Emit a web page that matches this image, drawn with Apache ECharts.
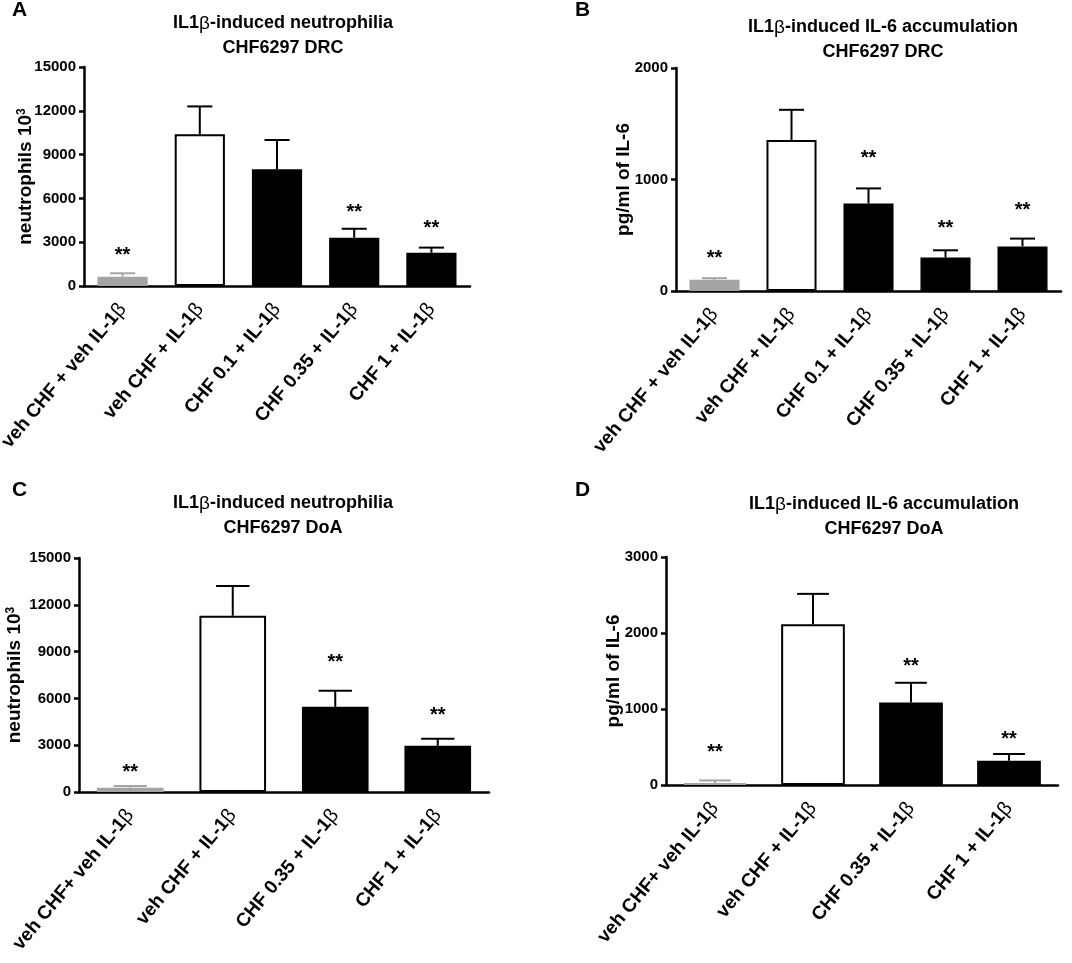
<!DOCTYPE html>
<html>
<head>
    <meta charset="utf-8">
    <style>
        body{ margin: 0; background: #fff; }
        #chart-container{ width: 1072px; height: 963px; }
    </style>
</head>
<body>
    <div id="chart-container"></div>

    <script type="text/javascript" src="https://cdn.jsdelivr.net/npm/echarts@6/dist/echarts.min.js"></script>
    <script type="text/javascript">
        // categories
        var catsDRC = ['veh CHF + veh IL-1β', 'veh CHF + IL-1β', 'CHF 0.1 + IL-1β', 'CHF 0.35 + IL-1β', 'CHF 1 + IL-1β'];
        var catsDoA = ['veh CHF+ veh IL-1β', 'veh CHF + IL-1β', 'CHF 0.35 + IL-1β', 'CHF 1 + IL-1β'];

        // A: neutrophils, DRC (mean, SEM, where the ** sits)
        var meanA = [640, 10400, 8000, 3300, 2280];
        var semA  = [230, 1900, 2000, 620, 350];
        var starA = [2450, null, null, 5350, 4300];

        // B: IL-6, DRC
        var meanB = [100, 1355, 785, 300, 400];
        var semB  = [15, 270, 135, 65, 70];
        var starB = [340, null, 1230, 610, 770];

        // C: neutrophils, DoA
        var meanC = [270, 11300, 5460, 2960];
        var semC  = [110, 1900, 1030, 450];
        var starC = [1600, null, 8600, 5250];

        // D: IL-6, DoA
        var meanD = [25, 2115, 1085, 320];
        var semD  = [35, 400, 260, 88];
        var starD = [500, null, 1620, 660];

        // y-axis ranges
        var yMaxNeut = 15000, yStepNeut = 3000;
        var yMaxIL6B = 2000, yStepIL6B = 1000;
        var yMaxIL6D = 3000, yStepIL6D = 1000;

        var GRAY = '#a4a4a6', WHITE = '#ffffff', BLACK = '#000000';
        var fillsDRC = [GRAY, WHITE, BLACK, BLACK, BLACK];
        var fillsDoA = [GRAY, WHITE, BLACK, BLACK];
        var FONT = '"Liberation Sans", Arial, Helvetica, sans-serif';

        var panels = [
            { grid: {left: 84, top: 67, width: 386, height: 219}, cats: catsDRC, mean: meanA, sem: semA, star: starA,
              max: yMaxNeut, step: yStepNeut, name: 'neutrophils 10{sup|3}', nameGap: 49, fills: fillsDRC },
            { grid: {left: 676, top: 68, width: 385, height: 223}, cats: catsDRC, mean: meanB, sem: semB, star: starB,
              max: yMaxIL6B, step: yStepIL6B, name: 'pg/ml of IL-6', nameGap: 43, fills: fillsDRC },
            { grid: {left: 79, top: 558, width: 410, height: 234}, cats: catsDoA, mean: meanC, sem: semC, star: starC,
              max: yMaxNeut, step: yStepNeut, name: 'neutrophils 10{sup|3}', nameGap: 55, fills: fillsDoA },
            { grid: {left: 666, top: 557, width: 392, height: 228}, cats: catsDoA, mean: meanD, sem: semD, star: starD,
              max: yMaxIL6D, step: yStepIL6D, name: 'pg/ml of IL-6', nameGap: 43, fills: fillsDoA }
        ];

        var grids = [], xAxes = [], yAxes = [], series = [];

        panels.forEach(function (p, k) {
            var g = p.grid;
            grids.push({ left: g.left, top: g.top, width: g.width, height: g.height, containLabel: false, outerBoundsMode: 'none' });

            xAxes.push({
                type: 'category', gridIndex: k, data: p.cats,
                axisLine: { lineStyle: { color: '#000', width: 2.5 } },
                axisTick: { alignWithLabel: true, length: 7, lineStyle: { color: '#000', width: 2.5 } },
                axisLabel: {
                    interval: 0, rotate: 50, margin: 20, color: '#000',
                    fontFamily: FONT, fontWeight: 'bold', fontSize: 19,
                    formatter: function (v) { return v.replace('β', '{b|β}'); },
                    rich: { b: { fontFamily: FONT, fontWeight: 'normal', fontSize: 20, color: '#000' } }
                }
            });

            yAxes.push({
                type: 'value', gridIndex: k, min: 0, max: p.max, interval: p.step,
                name: p.name, nameLocation: 'middle', nameGap: p.nameGap, nameMoveOverlap: false,
                nameTextStyle: {
                    color: '#000', fontFamily: FONT, fontWeight: 'bold', fontSize: 19,
                    rich: { sup: { fontFamily: FONT, fontWeight: 'bold', fontSize: 12, verticalAlign: 'top', color: '#000' } }
                },
                splitLine: { show: false },
                axisLine: { show: true, lineStyle: { color: '#000', width: 2.5 } },
                axisTick: { show: true, length: 5, lineStyle: { color: '#000', width: 2.5 } },
                axisLabel: {
                    color: '#000', fontFamily: FONT, fontWeight: 'bold', fontSize: 15, margin: 8,
                    formatter: function (v) { return String(v); }
                }
            });

            series.push({
                type: 'bar', xAxisIndex: k, yAxisIndex: k, barWidth: '65%',
                data: p.mean.map(function (v, i) {
                    var f = p.fills[i];
                    return { value: v, itemStyle: { color: f, borderColor: f === WHITE ? BLACK : f, borderWidth: 2 } };
                })
            });

            // error bars: mean -> mean + SEM, with a cap half the bar wide
            series.push({
                type: 'custom', xAxisIndex: k, yAxisIndex: k, z: 3,
                data: p.mean.map(function (v, i) { return [i, v, v + p.sem[i]]; }),
                renderItem: function (params, api) {
                    var i = api.value(0);
                    var lo = api.coord([i, api.value(1)]);
                    var hi = api.coord([i, api.value(2)]);
                    var half = api.size([1, 0])[0] * 0.65 * 0.25;
                    var col = p.fills[i] === GRAY ? GRAY : BLACK;
                    return {
                        type: 'group',
                        children: [
                            { type: 'line', shape: { x1: lo[0], y1: lo[1], x2: hi[0], y2: hi[1] }, style: { stroke: col, lineWidth: 2 } },
                            { type: 'line', shape: { x1: hi[0] - half, y1: hi[1], x2: hi[0] + half, y2: hi[1] }, style: { stroke: col, lineWidth: 2 } }
                        ]
                    };
                }
            });

            // significance marks
            var starData = [];
            p.star.forEach(function (s, i) { if (s != null) starData.push([i, s]); });
            series.push({
                type: 'custom', xAxisIndex: k, yAxisIndex: k, z: 4,
                data: starData,
                renderItem: function (params, api) {
                    var pt = api.coord([api.value(0), api.value(1)]);
                    return {
                        type: 'text', x: pt[0], y: pt[1] + 5,
                        style: { text: '**', fill: '#000', font: 'bold 20px ' + FONT, align: 'center', verticalAlign: 'middle' }
                    };
                }
            });
        });

        function titleText(x, y, l1, l2) {
            return {
                type: 'text', x: x, y: y,
                style: {
                    text: l1.replace('β', '{b|β}') + '\n' + l2,
                    fill: '#000', font: 'bold 18px ' + FONT, align: 'center', verticalAlign: 'top', lineHeight: 25,
                    rich: { b: { fontFamily: FONT, fontWeight: 'normal', fontSize: 19, fill: '#000' } }
                }
            };
        }
        function letter(x, y, t) {
            return { type: 'text', x: x, y: y, style: { text: t, fill: '#000', font: 'bold 21px ' + FONT } };
        }

        var chart = echarts.init(document.getElementById('chart-container'));
        chart.setOption({
            animation: false,
            grid: grids,
            xAxis: xAxes,
            yAxis: yAxes,
            series: series,
            graphic: [
                letter(12, 0, 'A'), letter(575, 0, 'B'), letter(12, 480, 'C'), letter(575, 480, 'D'),
                titleText(283, 11, 'IL1β-induced neutrophilia', 'CHF6297 DRC'),
                titleText(883, 15, 'IL1β-induced IL-6 accumulation', 'CHF6297 DRC'),
                titleText(283, 491, 'IL1β-induced neutrophilia', 'CHF6297 DoA'),
                titleText(884, 492, 'IL1β-induced IL-6 accumulation', 'CHF6297 DoA')
            ]
        });
    </script>
</body>
</html>
